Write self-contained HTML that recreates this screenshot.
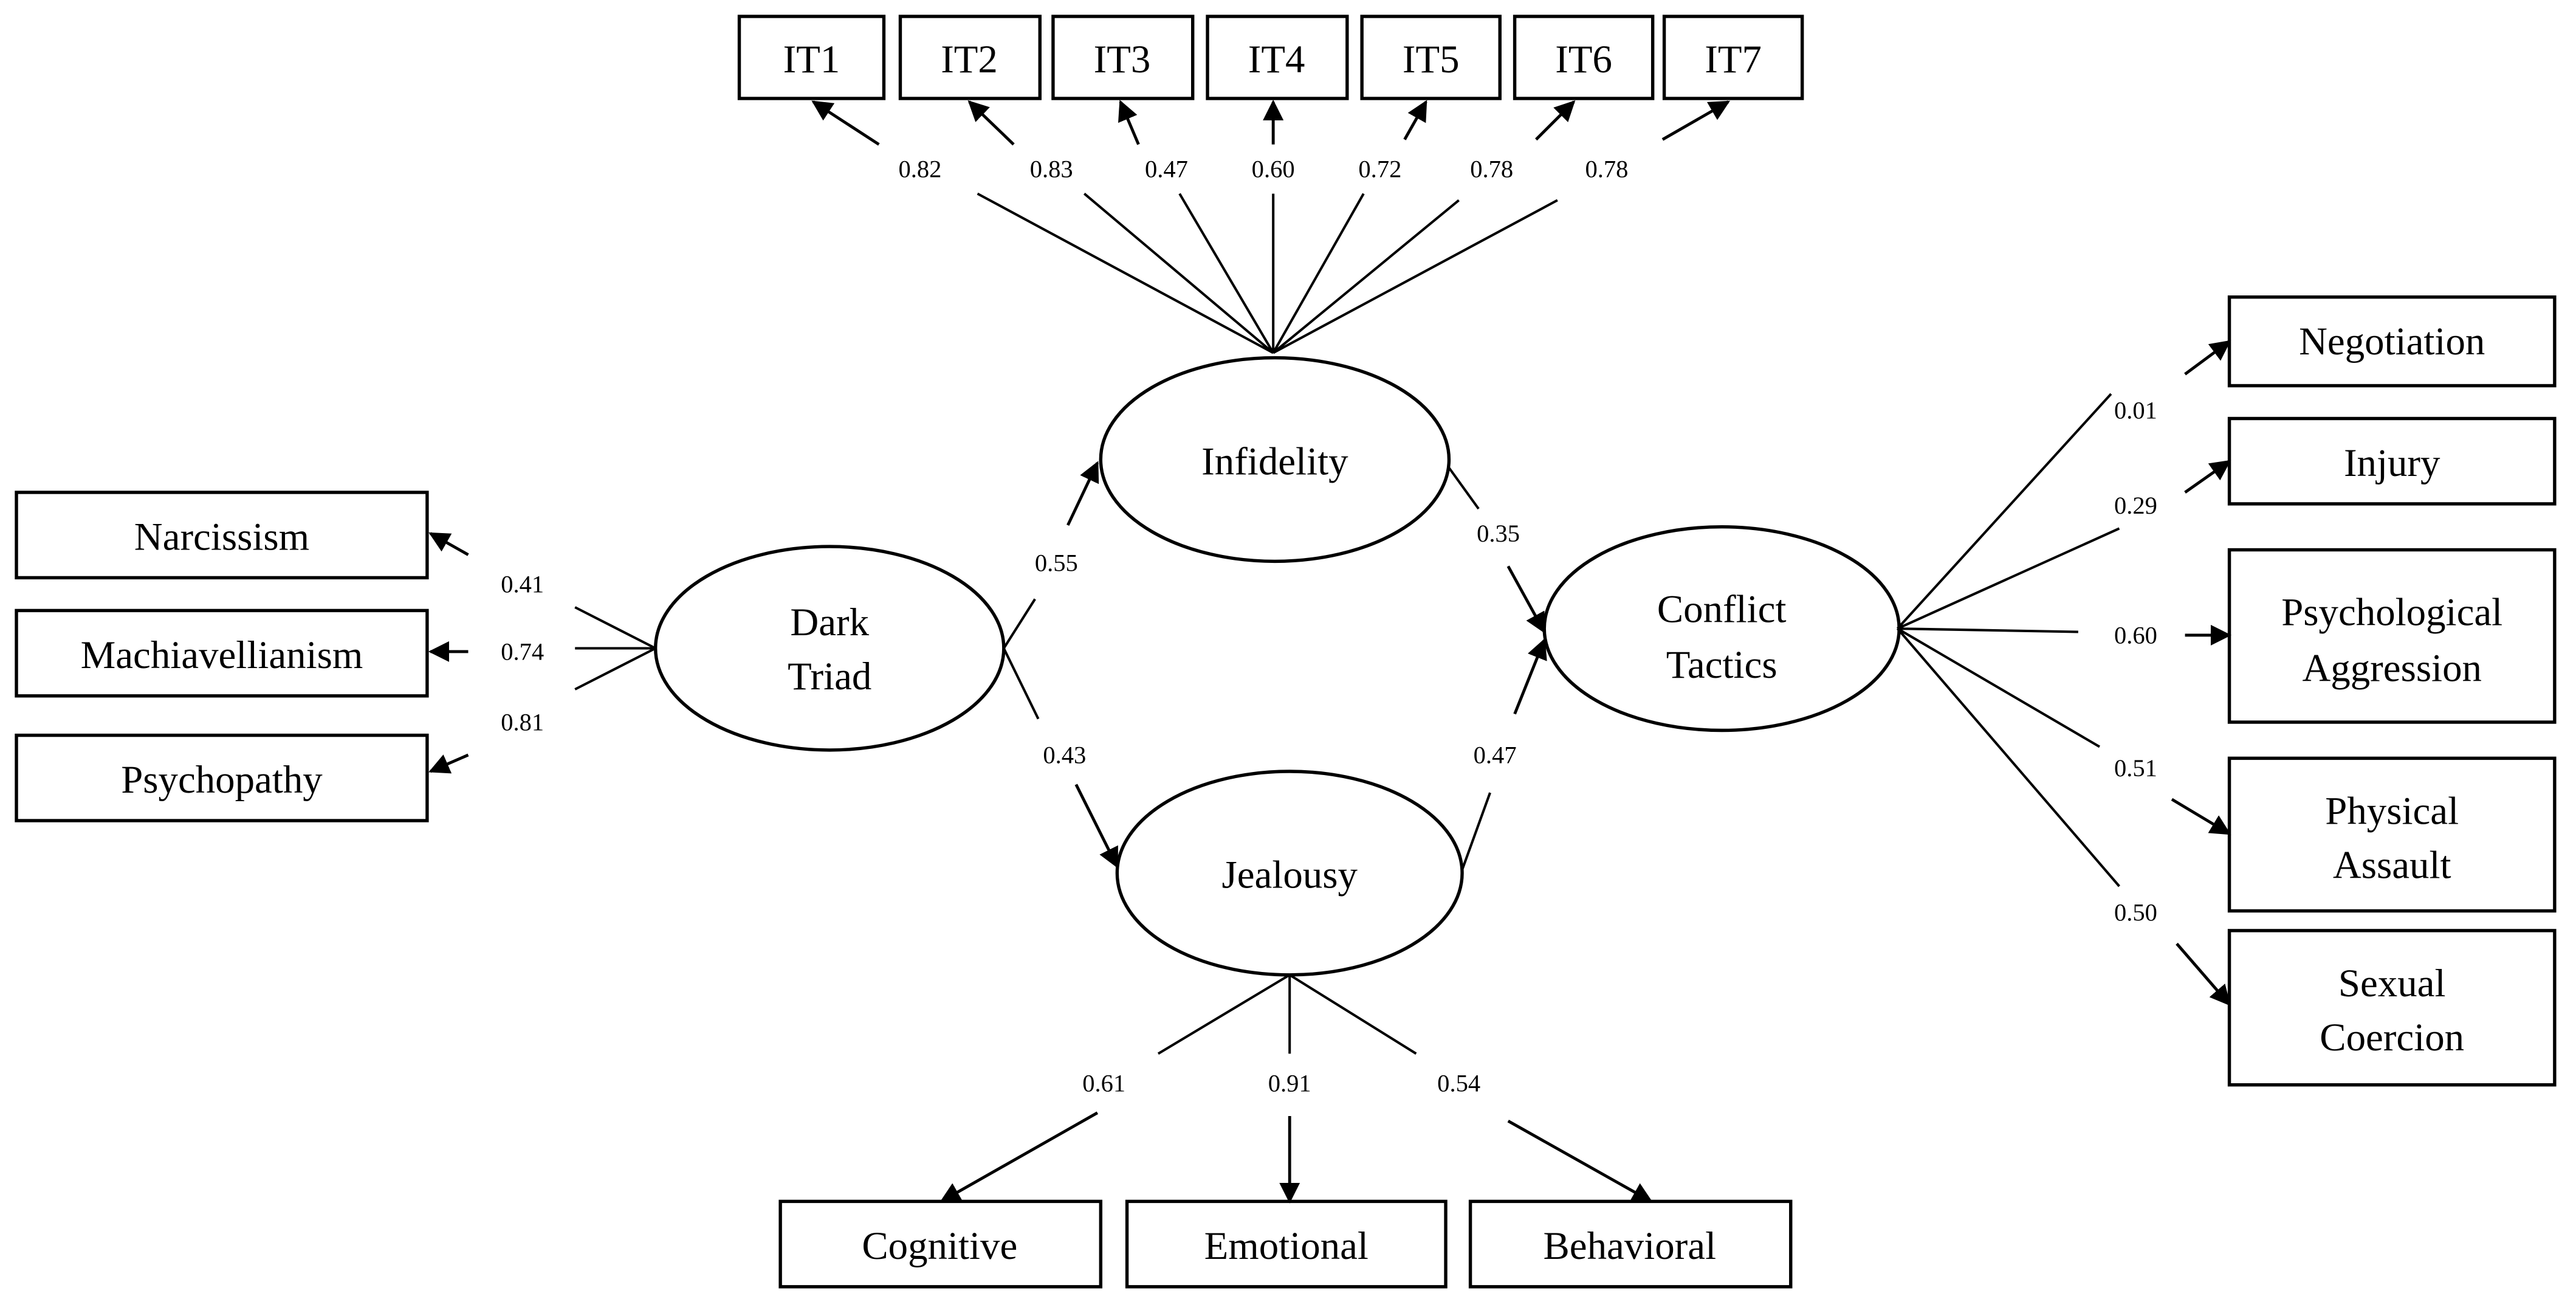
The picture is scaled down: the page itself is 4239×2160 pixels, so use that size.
<!DOCTYPE html>
<html><head><meta charset="utf-8"><style>
html,body{margin:0;padding:0;background:#fff;}
svg{display:block;}
text{font-family:"Liberation Serif",serif;fill:#000;}
.b{font-size:24px;text-anchor:middle;}
.l{font-size:15px;text-anchor:middle;}
</style></head><body>
<svg width="4239" height="2160" viewBox="0 0 1568 800" preserveAspectRatio="none" xmlns="http://www.w3.org/2000/svg">
<defs><marker id="a" viewBox="0 0 10 10" refX="9" refY="5" markerWidth="7" markerHeight="7" orient="auto-start-reverse"><path d="M0,0 L10,5 L0,10 z" fill="#000"/></marker></defs>
<g fill="#fff" stroke="#000" stroke-width="2">
<rect x="450" y="10" width="88" height="50"/><rect x="548" y="10" width="85" height="50"/><rect x="641" y="10" width="85" height="50"/><rect x="735" y="10" width="85" height="50"/><rect x="829" y="10" width="84" height="50"/><rect x="922" y="10" width="84" height="50"/><rect x="1013" y="10" width="84" height="50"/>
<rect x="10" y="300" width="250" height="52"/><rect x="10" y="372" width="250" height="52"/><rect x="10" y="448" width="250" height="52"/>
<rect x="1357" y="181" width="198" height="54"/><rect x="1357" y="255" width="198" height="52"/><rect x="1357" y="335" width="198" height="105"/><rect x="1357" y="462" width="198" height="93"/><rect x="1357" y="567" width="198" height="94"/>
<rect x="475" y="732" width="195" height="52"/><rect x="686" y="732" width="194" height="52"/><rect x="895" y="732" width="195" height="52"/>
<ellipse cx="776" cy="280" rx="106" ry="62"/><ellipse cx="505" cy="395" rx="106" ry="62"/><ellipse cx="785" cy="532" rx="105" ry="62"/><ellipse cx="1048" cy="383" rx="108" ry="62"/>
</g>
<g stroke="#000" stroke-width="1.5" fill="none">
<path d="M775,215 L595,118 M775,215 L660,118 M775,215 L718,118 M775,215 L775,118 M775,215 L830,118 M775,215 L888,122 M775,215 L948,122"/>
<path d="M399,395 L350,370 M399,395 L350,395 M399,395 L350,420"/>
<path d="M611,395 L630,365 M611,395 L632,438 M882,285 L900,310 M890,530 L907,483"/>
<path d="M1155,383 L1285,240 M1155,383 L1290,322 M1155,383 L1265,385 M1155,383 L1278,455 M1155,383 L1290,540"/>
<path d="M785,594 L705,642 M785,594 L785,642 M785,594 L862,642"/>
</g>
<g stroke="#000" stroke-width="1.8" marker-end="url(#a)">
<line x1="535" y1="88" x2="495" y2="62"/><line x1="617" y1="88" x2="590" y2="62"/><line x1="693" y1="88" x2="682" y2="62"/><line x1="775" y1="88" x2="775" y2="62"/><line x1="855" y1="85" x2="868" y2="62"/><line x1="935" y1="85" x2="958" y2="62"/><line x1="1012" y1="85" x2="1052" y2="62"/>
<line x1="285" y1="338" x2="262" y2="325"/><line x1="285" y1="397" x2="262" y2="397"/><line x1="285" y1="460" x2="262" y2="470"/>
<line x1="650" y1="320" x2="668" y2="282"/><line x1="655" y1="478" x2="680" y2="528"/><line x1="918" y1="345" x2="940" y2="385"/><line x1="922" y1="435" x2="940" y2="390"/>
<line x1="1330" y1="228" x2="1357" y2="208"/><line x1="1330" y1="300" x2="1357" y2="281"/><line x1="1330" y1="387" x2="1357" y2="387"/><line x1="1322" y1="487" x2="1357" y2="508"/><line x1="1325" y1="575" x2="1357" y2="612"/>
<line x1="668" y1="678" x2="573" y2="732"/><line x1="785" y1="680" x2="785" y2="732"/><line x1="918" y1="683" x2="1005" y2="732"/>
</g>
<g class="b">
<text x="494" y="44" class="b">IT1</text><text x="590" y="44" class="b">IT2</text><text x="683" y="44" class="b">IT3</text><text x="777" y="44" class="b">IT4</text><text x="871" y="44" class="b">IT5</text><text x="964" y="44" class="b">IT6</text><text x="1055" y="44" class="b">IT7</text>
<text x="135" y="335" class="b">Narcissism</text><text x="135" y="407" class="b">Machiavellianism</text><text x="135" y="483" class="b">Psychopathy</text>
<text x="1456" y="216" class="b">Negotiation</text><text x="1456" y="290" class="b">Injury</text>
<text x="1456" y="381" class="b">Psychological</text><text x="1456" y="415" class="b">Aggression</text>
<text x="1456" y="502" class="b">Physical</text><text x="1456" y="535" class="b">Assault</text>
<text x="1456" y="607" class="b">Sexual</text><text x="1456" y="640" class="b">Coercion</text>
<text x="572" y="767" class="b">Cognitive</text><text x="783" y="767" class="b">Emotional</text><text x="992" y="767" class="b">Behavioral</text>
<text x="776" y="289" class="b">Infidelity</text><text x="505" y="387" class="b">Dark</text><text x="505" y="420" class="b">Triad</text>
<text x="785" y="541" class="b">Jealousy</text><text x="1048" y="379" class="b">Conflict</text><text x="1048" y="413" class="b">Tactics</text>
</g>
<g>
<text x="560" y="108" class="l">0.82</text><text x="640" y="108" class="l">0.83</text><text x="710" y="108" class="l">0.47</text><text x="775" y="108" class="l">0.60</text><text x="840" y="108" class="l">0.72</text><text x="908" y="108" class="l">0.78</text><text x="978" y="108" class="l">0.78</text>
<text x="318" y="361" class="l">0.41</text><text x="318" y="402" class="l">0.74</text><text x="318" y="445" class="l">0.81</text>
<text x="643" y="348" class="l">0.55</text><text x="648" y="465" class="l">0.43</text><text x="912" y="330" class="l">0.35</text><text x="910" y="465" class="l">0.47</text>
<text x="1300" y="255" class="l">0.01</text><text x="1300" y="313" class="l">0.29</text><text x="1300" y="392" class="l">0.60</text><text x="1300" y="473" class="l">0.51</text><text x="1300" y="561" class="l">0.50</text>
<text x="672" y="665" class="l">0.61</text><text x="785" y="665" class="l">0.91</text><text x="888" y="665" class="l">0.54</text>
</g>
</svg>
</body></html>
